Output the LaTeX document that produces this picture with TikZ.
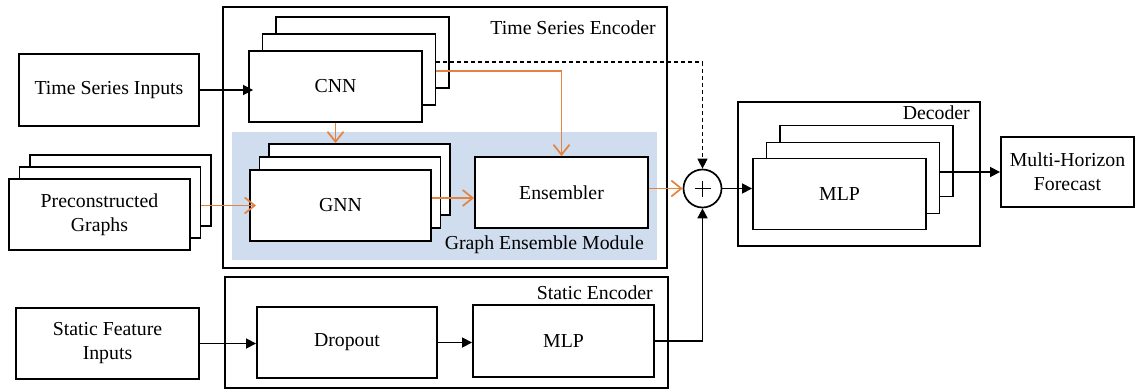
\documentclass[tikz,border=0pt]{standalone}
\usepackage{fontspec}
\setmainfont{Liberation Serif}
\usetikzlibrary{arrows.meta}
\definecolor{orangeC}{HTML}{E4823F}
\definecolor{blueC}{HTML}{CFDDEE}
\begin{document}
\begin{tikzpicture}[x=1pt,y=-1pt,
  font=\fontsize{19.8}{24}\selectfont,
  box/.style={draw, fill=white, line width=1.9pt, inner sep=0pt, align=center},
  frame/.style={draw, line width=1.7pt},
  blk/.style={line width=1.7pt, -{Triangle[length=10pt,width=10pt]}},
  org/.style={draw=orangeC, line width=1.7pt, -{Straight Barb[length=10pt,width=16pt,line width=1.7pt]}},
  dsh/.style={line width=1.2pt, dash pattern=on 4pt off 3pt, -{Triangle[length=10pt,width=10pt]}},
  lbl/.style={anchor=east, inner sep=0pt}]
\useasboundingbox (0,0) rectangle (1135,389);
% frames
\draw[frame] (223,7) rectangle (667,268);
\fill[blueC] (232,132) rectangle (657,260);
\draw[frame] (225,277) rectangle (668,388);
\draw[frame] (738,102) rectangle (980,246);
\node[lbl] (tselbl) at (656,28) {Time Series Encoder};
\node[lbl] (gemlbl) at (644,245) {Graph Ensemble Module};
\node[lbl] (selbl) at (653,293) {Static Encoder};
\node[lbl] (declbl) at (970,113) {Decoder};
% inputs
\node[box, minimum width=180pt, minimum height=72pt] (tsi) at (109,90) {Time Series Inputs};
\node[box, minimum width=181pt, minimum height=71pt] (pgB) at (120.5,190.5) {};
\node[box, minimum width=181pt, minimum height=71pt] (pgM) at (110,202.5) {};
\node[box, minimum width=181pt, minimum height=71pt] (pgF) at (99.5,214.5) {Preconstructed\\Graphs};
\node[box, minimum width=183pt, minimum height=71pt] (sfi) at (107.5,343.5) {Static Feature\\Inputs};
% CNN stack
\node[box, minimum width=173pt, minimum height=71pt] (cnnB) at (362.5,52.5) {};
\node[box, minimum width=173pt, minimum height=71pt] (cnnM) at (349,69.5) {};
\node[box, minimum width=173pt, minimum height=71pt] (cnnF) at (335.5,86.5) {CNN};
% GNN stack
\node[box, minimum width=181pt, minimum height=71pt] (gnnB) at (359.5,179.5) {};
\node[box, minimum width=181pt, minimum height=71pt] (gnnM) at (350,192.5) {};
\node[box, minimum width=181pt, minimum height=71pt] (gnnF) at (340.5,205.5) {GNN};
\node[box, minimum width=173pt, minimum height=71pt] (ens) at (561.5,192.5) {Ensembler};
% plus
\node[draw, circle, fill=white, line width=1.7pt, minimum size=38pt, inner sep=0pt] (plus) at (702.5,188.5) {};
\draw[line width=1.2pt] ([xshift=-8pt]plus.center) -- ([xshift=8pt]plus.center)
  ([yshift=-8pt]plus.center) -- ([yshift=8pt]plus.center);
% decoder MLP stack
\node[box, minimum width=173pt, minimum height=71pt] (mlpB) at (866.5,161) {};
\node[box, minimum width=173pt, minimum height=71pt] (mlpM) at (853,178) {};
\node[box, minimum width=173pt, minimum height=71pt] (mlpF) at (839.5,194) {MLP};
\node[box, minimum width=133pt, minimum height=70pt] (mhf) at (1067.5,172) {Multi-Horizon\\Forecast};
% static encoder
\node[box, minimum width=180pt, minimum height=71pt] (drop) at (347,342.5) {Dropout};
\node[box, minimum width=181pt, minimum height=72pt] (smlp) at (563.5,341) {MLP};
% connectors
\draw[blk] (tsi.east) -- ([xshift=5pt]tsi.east -| cnnF.west);
\draw[org] (cnnF.south) -- (cnnF.south |- gnnB.north);
\draw[org] ([yshift=-1.5pt]cnnM.east) -| (ens.north);
\draw[dsh] ([yshift=7.5pt]cnnM.east) -| (plus.north);
\draw[org] (gnnF.west -| pgM.east) -- ([xshift=7pt]gnnF.west);
\draw[org] ([yshift=7.5pt]gnnF.east) -- ([yshift=7.5pt]gnnF.east -| ens.west);
\draw[org] (plus.west -| ens.east) -- (plus.west);
\draw[blk] (plus.east) -- (plus.east -| mlpF.west);
\draw[blk] (mhf.west -| mlpM.east) -- (mhf.west);
\draw[blk] (sfi.east) -- (sfi.east -| drop.west);
\draw[blk] (drop.east) -- (drop.east -| smlp.west);
\draw[blk] (smlp.east) -| (plus.south);
\end{tikzpicture}
\end{document}
